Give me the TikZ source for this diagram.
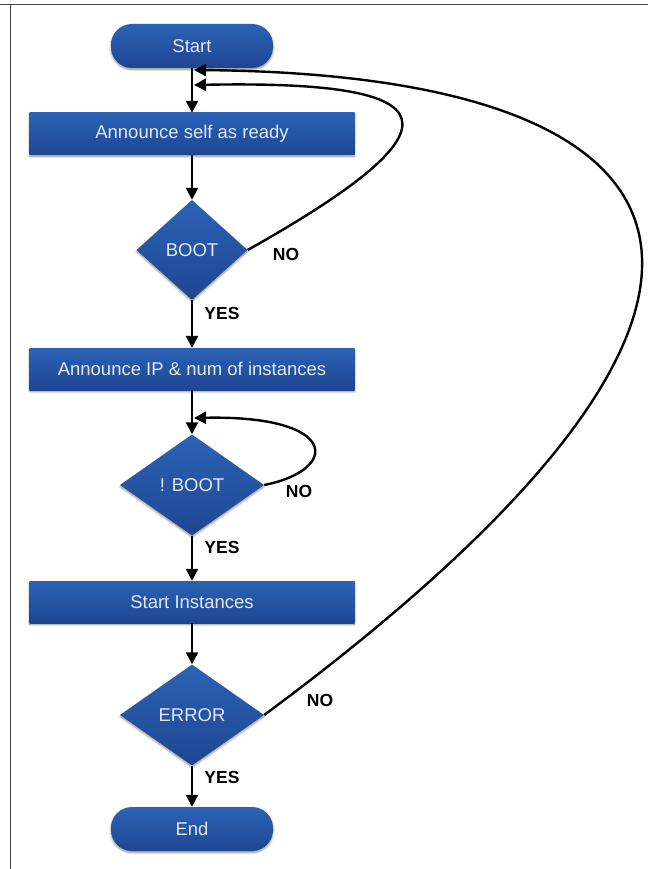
\documentclass[tikz,border=0pt]{standalone}
\usepackage{fontspec}
\setmainfont{Liberation Sans}
\usetikzlibrary{shapes,arrows.meta,positioning,shadows.blur}
\definecolor{boxtop}{RGB}{44,98,180}
\definecolor{boxbot}{RGB}{30,70,146}
\definecolor{boxtext}{RGB}{225,232,245}
\definecolor{framegray}{RGB}{70,70,70}

\begin{document}
\begin{tikzpicture}[x=1pt, y=-1pt,
  box/.style={top color=boxtop, bottom color=boxbot, text=boxtext, inner sep=0pt,
    font=\fontsize{18.5}{22}\selectfont,
    blur shadow={shadow xshift=0pt, shadow yshift=-1.5pt, shadow blur steps=6, shadow opacity=45}},
  term/.style={box, rectangle, rounded corners=21pt, minimum width=162pt, minimum height=44pt},
  proc/.style={box, rectangle, minimum width=325pt, minimum height=42pt},
  dec/.style={box, diamond, minimum width=144pt, minimum height=101pt},
  flow/.style={line width=2.4pt, -{Triangle[length=12pt, width=12pt]}},
  lbl/.style={font=\fontsize{17.5}{20}\selectfont\bfseries}]
  \useasboundingbox (0,0) rectangle (648,869);
  % frame
  \draw[framegray, line width=1.8pt] (0,4.5) -- (648,4.5);
  \draw[framegray, line width=1.8pt] (10.5,4.5) -- (10.5,869);

  % steps
  \node[term] (start) at (192,46) {Start};
  \node[proc] (ready) at (192,134) {Announce self as ready};
  \node[dec, minimum width=111pt, minimum height=100pt] (boot) at (192,250) {BOOT};
  \node[proc] (announce) at (192,369) {Announce IP \& num of instances};
  \node[dec] (notboot) at (192,485) {! BOOT};
  \node[proc] (instances) at (192,602) {Start Instances};
  \node[dec] (error) at (192,715) {ERROR};
  \node[term] (end) at (192,829) {End};

  % forward flow
  \draw[flow] (start) -- (ready);
  \draw[flow] (ready) -- (boot);
  \draw[flow] (boot) -- (announce);
  \draw[flow] (announce) -- (notboot);
  \draw[flow] (notboot) -- (instances);
  \draw[flow] (instances) -- (error);
  \draw[flow] (error) -- (end);

  % loops back
  \coordinate (backerr) at (194,70);
  \coordinate (backboot) at (194,85);
  \coordinate (backnb) at (194,418);
  \draw[flow] (error.east) .. controls (825,300) and (725,75) .. (backerr);
  \draw[flow] (boot.east) .. controls (470,125) and (450,80) .. (backboot);
  \draw[flow] (notboot.east) .. controls (340,470) and (340,415) .. (backnb);

  % labels
  \node[lbl] (yes1) at (222,313) {YES};
  \node[lbl] (yes2) at (222,547) {YES};
  \node[lbl] (yes3) at (222,777) {YES};
  \node[lbl] (no1) at (286,254) {NO};
  \node[lbl] (no2) at (299,491) {NO};
  \node[lbl] (no3) at (320,700) {NO};
\end{tikzpicture}
\end{document}
